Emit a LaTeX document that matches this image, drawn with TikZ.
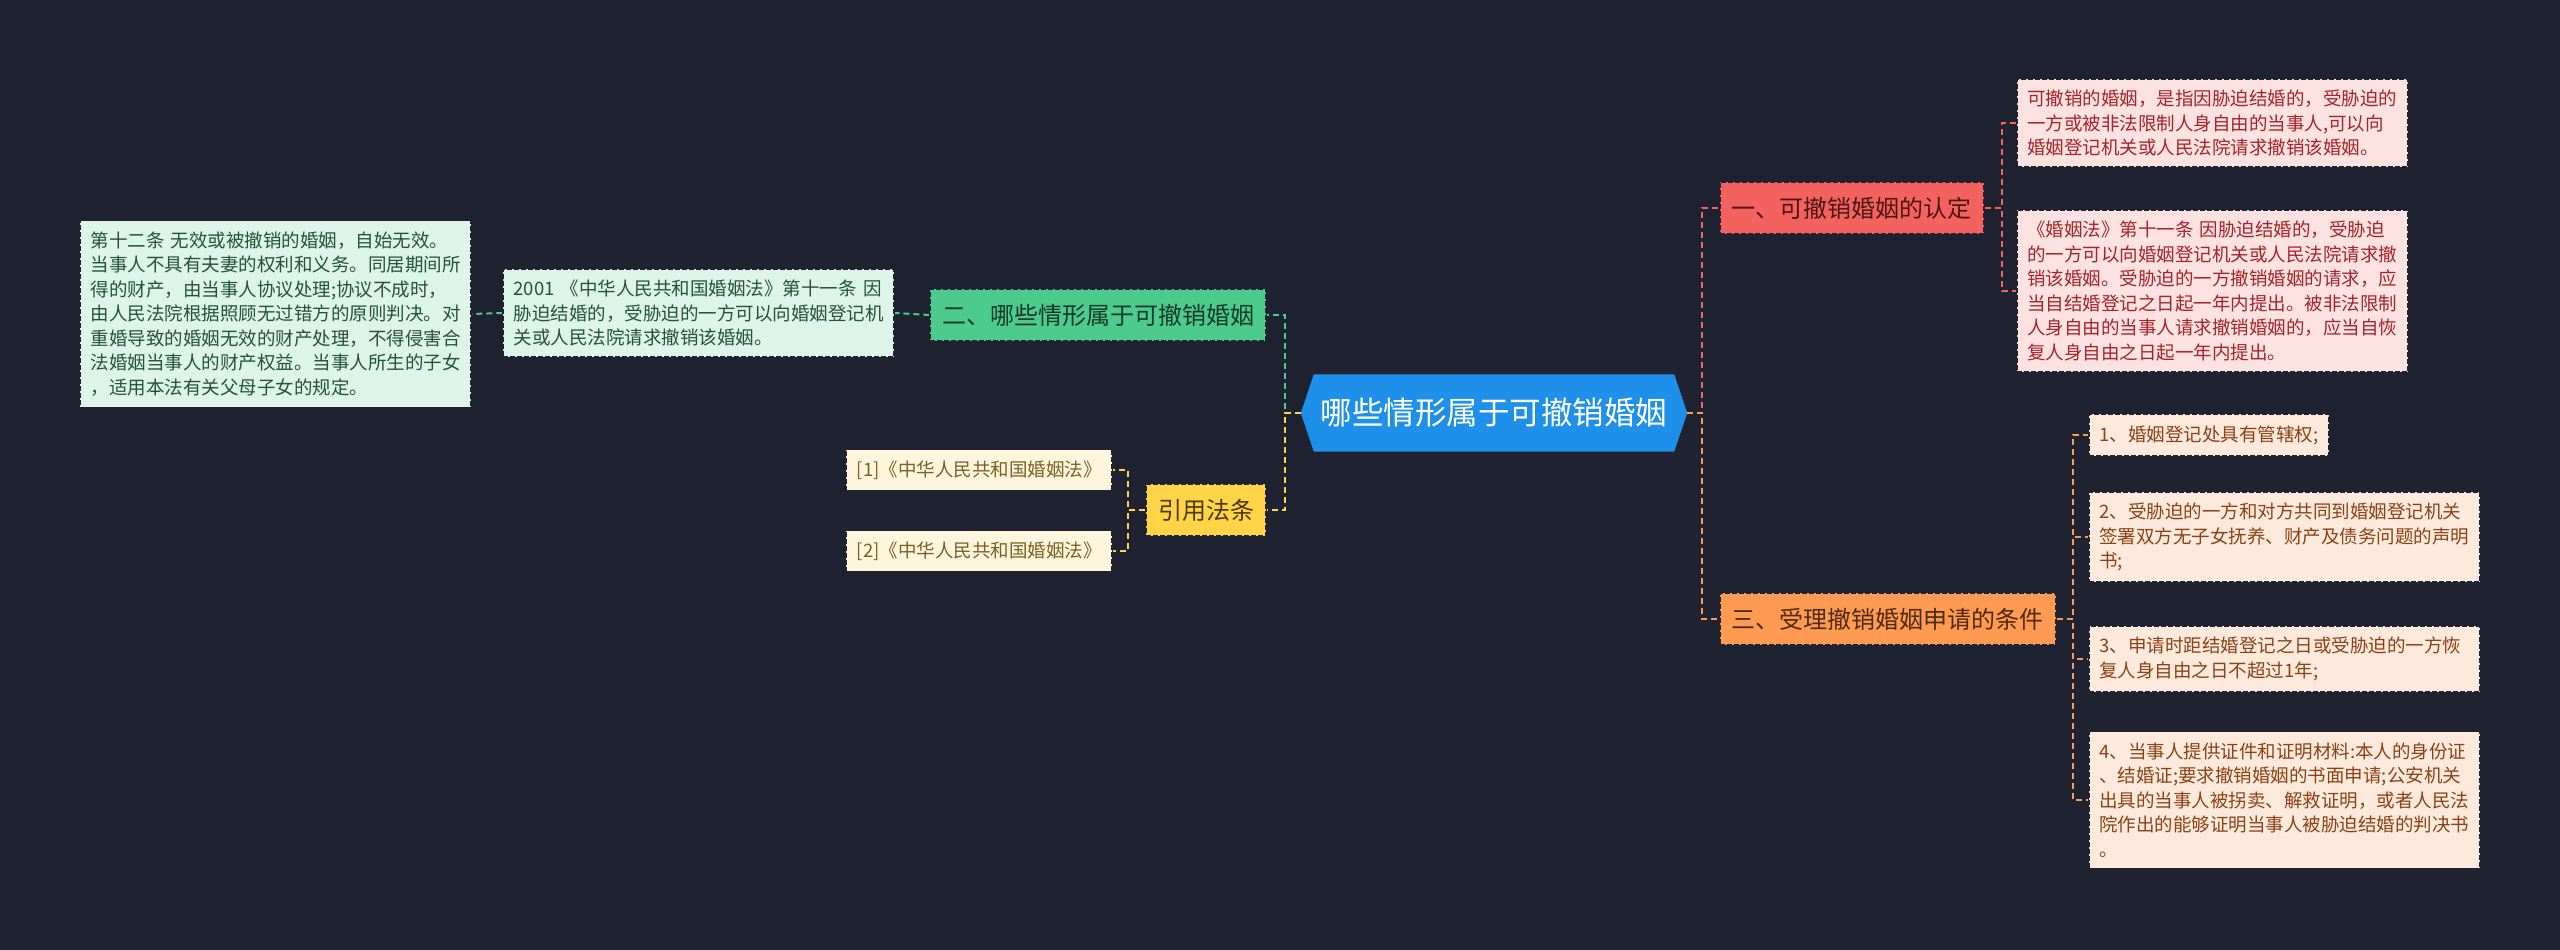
\documentclass[tikz,border=0pt]{standalone}
\usepackage{fontspec}
\setmainfont{Noto Sans CJK SC}
\usetikzlibrary{calc}
\pgfdeclarelayer{back}
\pgfdeclarelayer{background}
\pgfsetlayers{back,background,main}
\definecolor{bgc}{HTML}{1F2230}
\definecolor{cblue}{HTML}{1E90EA}
\definecolor{gmain}{HTML}{4CCB8C}
\definecolor{gtext}{HTML}{163A28}
\definecolor{glight}{HTML}{DDF4E8}
\definecolor{gltext}{HTML}{24533A}
\definecolor{ymain}{HTML}{FFD447}
\definecolor{ytext}{HTML}{4A3A05}
\definecolor{ylight}{HTML}{FDF5DC}
\definecolor{yltext}{HTML}{7A6022}
\definecolor{rmain}{HTML}{F46260}
\definecolor{rtext}{HTML}{4E1616}
\definecolor{rlight}{HTML}{FDE2E2}
\definecolor{rltext}{HTML}{A52427}
\definecolor{omain}{HTML}{FF9A52}
\definecolor{otext}{HTML}{4F2A0E}
\definecolor{olight}{HTML}{FEEADC}
\definecolor{oltext}{HTML}{8A4215}
\tikzset{
  bordered/.style={draw=bgc, line width=1.6pt, dash pattern=on 5pt off 2pt},
  textbox/.style={bordered, rectangle, inner xsep=10.5pt, inner ysep=11pt, align=left,
    font=\fontsize{18.5}{24.5}\selectfont},
  widebox/.style={textbox, text width=370pt},
  mainbox/.style={bordered, rectangle, inner xsep=12pt, inner ysep=15pt,
    font=\fontsize{24}{28}\selectfont},
  link/.style={line width=2pt, dash pattern=on 6pt off 4pt},
}
\begin{document}
\begin{tikzpicture}[x=1pt,y=-1pt]
\useasboundingbox (0,0) rectangle (2560,950);
\begin{pgfonlayer}{back}
\fill[bgc] (0,0) rectangle (2560,950);
\end{pgfonlayer}

% central
\node[inner sep=0pt, minimum width=360pt, minimum height=77pt, text=white,
  font=\fontsize{31.5}{36}\selectfont] (c) at (1494,413) {哪些情形属于可撤销婚姻};
\coordinate (cl) at ($(c.west)+(-13,0)$);
\coordinate (cr) at ($(c.east)+(13,0)$);
\begin{pgfonlayer}{background}
\fill[cblue] (cl) -- (c.north west) -- (c.north east) -- (cr) -- (c.south east) -- (c.south west) -- cycle;
\end{pgfonlayer}

% left: green
\node[mainbox, fill=gmain, text=gtext, anchor=east] (g) at (1267,315) {二、哪些情形属于可撤销婚姻};
\node[widebox, fill=glight, text=gltext, anchor=east] (g1) at (895,313) {2001 《中华人民共和国婚姻法》第十一条 因\\胁迫结婚的，受胁迫的一方可以向婚姻登记机\\关或人民法院请求撤销该婚姻。};
\node[widebox, fill=glight, text=gltext, anchor=east] (g2) at (472,314) {第十二条 无效或被撤销的婚姻，自始无效。\\当事人不具有夫妻的权利和义务。同居期间所\\得的财产，由当事人协议处理;协议不成时，\\由人民法院根据照顾无过错方的原则判决。对\\重婚导致的婚姻无效的财产处理，不得侵害合\\法婚姻当事人的财产权益。当事人所生的子女\\，适用本法有关父母子女的规定。};

% left: yellow
\node[mainbox, fill=ymain, text=ytext, anchor=east] (y) at (1267,510) {引用法条};
\node[textbox, fill=ylight, text=yltext, anchor=east] (y1) at (1113,470) {[1]《中华人民共和国婚姻法》};
\node[textbox, fill=ylight, text=yltext, anchor=east] (y2) at (1113,551) {[2]《中华人民共和国婚姻法》};

% right: red
\node[mainbox, fill=rmain, text=rtext, anchor=west] (r) at (1719,208) {一、可撤销婚姻的认定};
\node[widebox, fill=rlight, text=rltext, anchor=west] (r1) at (2016,123) {可撤销的婚姻，是指因胁迫结婚的，受胁迫的\\一方或被非法限制人身自由的当事人,可以向\\婚姻登记机关或人民法院请求撤销该婚姻。};
\node[widebox, fill=rlight, text=rltext, anchor=west] (r2) at (2016,291) {《婚姻法》第十一条 因胁迫结婚的，受胁迫\\的一方可以向婚姻登记机关或人民法院请求撤\\销该婚姻。受胁迫的一方撤销婚姻的请求，应\\当自结婚登记之日起一年内提出。被非法限制\\人身自由的当事人请求撤销婚姻的，应当自恢\\复人身自由之日起一年内提出。};

% right: orange
\node[mainbox, fill=omain, text=otext, anchor=west] (o) at (1719,619) {三、受理撤销婚姻申请的条件};
\node[textbox, fill=olight, text=oltext, anchor=west] (o1) at (2088,435) {1、婚姻登记处具有管辖权;};
\node[widebox, fill=olight, text=oltext, anchor=west] (o2) at (2088,537) {2、受胁迫的一方和对方共同到婚姻登记机关\\签署双方无子女抚养、财产及债务问题的声明\\书;};
\node[widebox, fill=olight, text=oltext, anchor=west] (o3) at (2088,659) {3、申请时距结婚登记之日或受胁迫的一方恢\\复人身自由之日不超过1年;};
\node[widebox, fill=olight, text=oltext, anchor=west] (o4) at (2088,800) {4、当事人提供证件和证明材料:本人的身份证\\、结婚证;要求撤销婚姻的书面申请;公安机关\\出具的当事人被拐卖、解救证明，或者人民法\\院作出的能够证明当事人被胁迫结婚的判决书\\。};

% connectors
\begin{pgfonlayer}{background}
\draw[link, gmain] (cl) -- ++(-16,0) |- (g.east);
\draw[link, ymain] (cl) -- ++(-16,0) |- (y.east);
\draw[link, gmain] (g.west) -- (g1.east);
\draw[link, gmain] (g1.west) -- (g2.east);
\draw[link, ymain] (y.west) -- ++(-17,0) |- (y1.east);
\draw[link, ymain] (y.west) -- ++(-17,0) |- (y2.east);
\draw[link, rmain] (cr) -- ++(15,0) |- (r.west);
\draw[link, omain] (cr) -- ++(15,0) |- (o.west);
\draw[link, rmain] (r.east) -- ++(17,0) |- (r1.west);
\draw[link, rmain] (r.east) -- ++(17,0) |- (r2.west);
\draw[link, omain] (o.east) -- ++(16,0) |- (o1.west);
\draw[link, omain] (o.east) -- ++(16,0) |- (o2.west);
\draw[link, omain] (o.east) -- ++(16,0) |- (o3.west);
\draw[link, omain] (o.east) -- ++(16,0) |- (o4.west);
\end{pgfonlayer}
\end{tikzpicture}
\end{document}
